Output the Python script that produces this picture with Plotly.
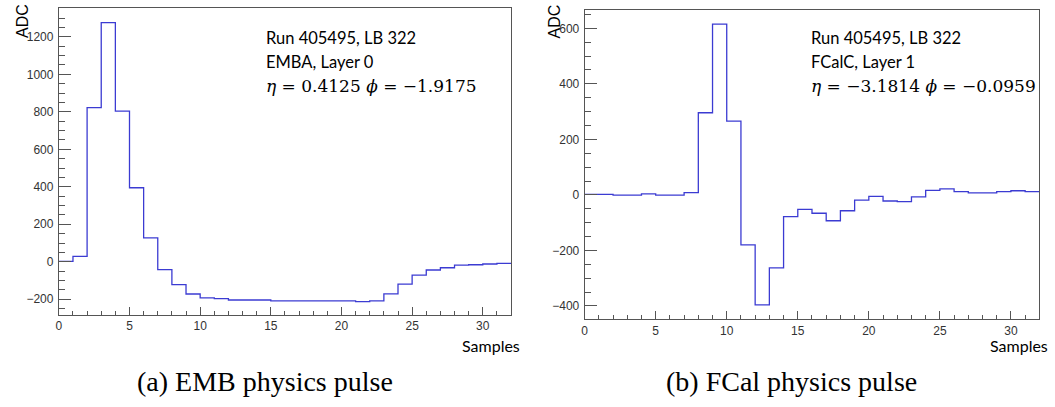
import plotly.graph_objects as go

# Sample index bin edges (32 samples, unit width)
samples = list(range(33))

# EMB barrel pulse, ADC per sample
emb_adc = [2, 29, 822, 1276, 804, 395, 127, -42, -122, -172, -193, -197,
           -204, -204, -204, -209, -209, -209, -209, -209, -209, -213, -209,
           -171, -119, -71, -44, -32, -18, -16, -12, -9]

# FCal pulse, ADC per sample
fcal_adc = [2, 2, -1, -1, 4, -1, -1, 8, 296, 615, 266, -180, -396, -263,
            -78, -52, -66, -93, -57, -19, -5, -22, -24, -7, 16, 22, 12, 7,
            7, 12, 15, 12]

emb_text = ["Run 405495, LB 322", "EMBA, Layer 0", "<i>η</i> = 0.4125 <i>ϕ</i> = −1.9175"]
fcal_text = ["Run 405495, LB 322", "FCalC, Layer 1", "<i>η</i> = −3.1814 <i>ϕ</i> = −0.0959"]
captions = ["(a) EMB physics pulse", "(b) FCal physics pulse"]

W, H = 1055, 407
LINE = "#3b3bd2"
AXC = "#555555"
TICKC = "#333333"


def px(x):
    return x / W


def py(y):
    return 1 - y / H


fig = go.Figure()
fig.add_trace(go.Scatter(x=samples, y=emb_adc + [emb_adc[-1]], mode="lines",
                         line=dict(shape="hv", color=LINE, width=1.3),
                         xaxis="x", yaxis="y", showlegend=False))
fig.add_trace(go.Scatter(x=samples, y=fcal_adc + [fcal_adc[-1]], mode="lines",
                         line=dict(shape="hv", color=LINE, width=1.3),
                         xaxis="x2", yaxis="y2", showlegend=False))


def xaxis(dom, anchor):
    return dict(domain=dom, anchor=anchor, range=[0, 32], dtick=5, tick0=0,
                ticks="inside", ticklen=8, tickcolor=AXC, tickwidth=1,
                showline=True, linecolor=AXC, linewidth=1, mirror=True,
                showgrid=False, zeroline=False,
                tickfont=dict(family="Liberation Sans", size=12, color=TICKC),
                minor=dict(dtick=1, ticks="inside", ticklen=4, tickcolor=AXC))


def yaxis(dom, anchor, rng):
    return dict(domain=dom, anchor=anchor, range=rng, dtick=200,
                ticks="inside", ticklen=12, tickcolor=AXC, tickwidth=1,
                showline=True, linecolor=AXC, linewidth=1, mirror=True,
                showgrid=False, zeroline=False, ticklabelstandoff=2,
                tickfont=dict(family="Liberation Sans", size=12, color=TICKC),
                minor=dict(dtick=50, ticks="inside", ticklen=6, tickcolor=AXC))


fig.update_layout(
    width=W, height=H, margin=dict(l=0, r=0, t=0, b=0),
    paper_bgcolor="white", plot_bgcolor="white",
    xaxis=xaxis([px(56), px(509.5)], "y"),
    yaxis=yaxis([py(315), py(8)], "x", [-284, 1354]),
    xaxis2=xaxis([px(583.3), px(1039.3)], "y2"),
    yaxis2=yaxis([py(319.3), py(10)], "x2", [-448, 666]),
)

ann = []
# Info text blocks
for x0, lines in ((262, emb_text), (808, fcal_text)):
    for i, (t, yc) in enumerate(zip(lines, (38, 62, 86))):
        ann.append(dict(text=t, x=px(x0), y=py(yc), xref="paper", yref="paper",
                        xanchor="left", yanchor="middle", showarrow=False,
                        font=dict(family="DejaVu Serif" if i == 2 else "Lato",
                                  size=17 if i == 2 else 16.5, color="black")))
# Axis titles
for xc in (19, 553):
    ann.append(dict(text="ADC", x=px(xc), y=py(21), xref="paper", yref="paper",
                    xanchor="center", yanchor="middle", textangle=-90,
                    showarrow=False,
                    font=dict(family="Liberation Sans", size=16, color="black")))
for xr in (520, 1050):
    ann.append(dict(text="Samples", x=px(xr), y=py(345), xref="paper", yref="paper",
                    xanchor="right", yanchor="middle", showarrow=False,
                    font=dict(family="Lato", size=16, color="black")))
# Sub-figure captions
for xc, t in ((263, captions[0]), (791, captions[1])):
    ann.append(dict(text=t, x=px(xc), y=py(381), xref="paper", yref="paper",
                    xanchor="center", yanchor="middle", showarrow=False,
                    font=dict(family="Liberation Serif", size=28, color="black")))
fig.update_layout(annotations=ann)

fig.write_html("out.html")
